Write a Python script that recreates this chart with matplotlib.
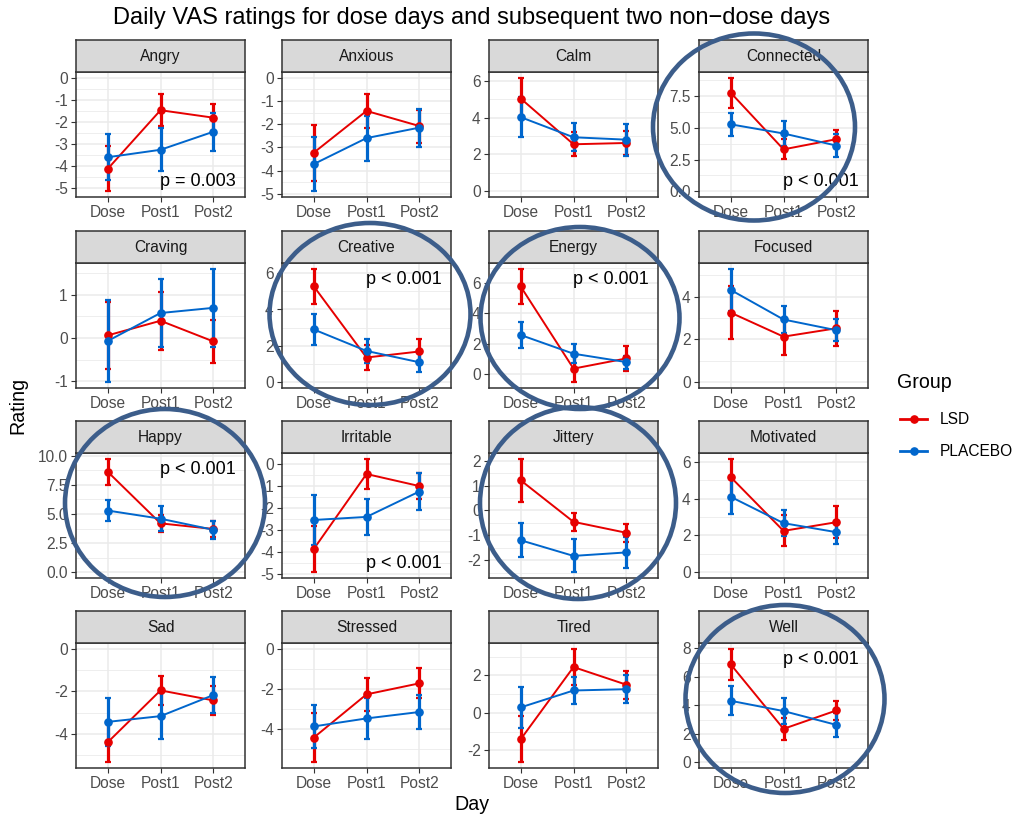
import matplotlib
matplotlib.use('Agg')
import matplotlib.pyplot as plt
from matplotlib.patches import Ellipse
from matplotlib.lines import Line2D
from matplotlib.ticker import MultipleLocator, FormatStrFormatter
import numpy as np

plt.rcParams['font.family'] = ['Liberation Sans', 'DejaVu Sans']

# ---------------- data ----------------
days = ['Dose', 'Post1', 'Post2']
groups = ['LSD', 'PLACEBO']
panels = ['Angry', 'Anxious', 'Calm', 'Connected',
          'Craving', 'Creative', 'Energy', 'Focused',
          'Happy', 'Irritable', 'Jittery', 'Motivated',
          'Sad', 'Stressed', 'Tired', 'Well']

lsd_mean = [[-4.15, -1.48, -1.82], [-3.23, -1.43, -2.08], [5.03, 2.55, 2.62], [7.76, 3.30, 4.10],
            [0.06, 0.40, -0.08], [5.27, 1.36, 1.69], [5.77, 0.37, 1.04], [3.25, 2.13, 2.52],
            [8.63, 4.20, 3.72], [-3.87, -0.44, -0.99], [1.21, -0.46, -0.90], [5.17, 2.25, 2.72],
            [-4.40, -1.96, -2.43], [-4.44, -2.28, -1.73], [-1.41, 2.44, 1.50], [6.88, 2.35, 3.64]]
lsd_err = [[1.02, 0.72, 0.60], [1.21, 0.72, 0.71], [1.13, 0.66, 0.65], [1.18, 0.79, 0.72],
           [0.77, 0.67, 0.50], [0.96, 0.66, 0.69], [1.17, 0.90, 0.80], [1.23, 0.86, 0.82],
           [1.12, 0.70, 0.72], [1.06, 0.70, 0.61], [0.87, 0.37, 0.37], [1.00, 0.84, 0.88],
           [0.94, 0.68, 0.68], [1.23, 0.83, 0.75], [1.23, 0.98, 0.74], [1.10, 0.76, 0.68]]
pbo_mean = [[-3.62, -3.28, -2.46], [-3.72, -2.60, -2.15], [4.02, 2.93, 2.80], [5.27, 4.55, 3.60],
            [-0.07, 0.58, 0.70], [2.90, 1.72, 1.10], [2.58, 1.35, 0.80], [4.31, 2.93, 2.43],
            [5.30, 4.60, 3.65], [-2.54, -2.40, -1.24], [-1.20, -1.83, -1.69], [4.10, 2.67, 2.18],
            [-3.44, -3.17, -2.18], [-3.88, -3.48, -3.16], [0.29, 1.19, 1.26], [4.32, 3.60, 2.63]]
pbo_err = [[1.05, 0.97, 0.86], [1.17, 0.97, 0.82], [1.08, 0.75, 0.87], [0.93, 0.99, 0.90],
           [0.96, 0.80, 0.91], [0.83, 0.65, 0.53], [0.87, 0.62, 0.43], [0.99, 0.65, 0.51],
           [0.92, 1.05, 0.75], [1.12, 0.82, 0.86], [0.68, 0.66, 0.62], [0.96, 0.71, 0.63],
           [1.11, 1.08, 0.85], [1.08, 1.01, 0.87], [1.10, 0.72, 0.74], [1.03, 0.92, 0.85]]

y_step = [1, 1, 2, 2.5, 1, 2, 2, 2, 2.5, 1, 1, 2, 2, 2, 2, 2]

p_labels = {'Angry': 'p = 0.003', 'Connected': 'p < 0.001', 'Creative': 'p < 0.001',
            'Energy': 'p < 0.001', 'Happy': 'p < 0.001', 'Irritable': 'p < 0.001',
            'Well': 'p < 0.001'}
p_top = ['Creative', 'Energy', 'Happy', 'Well']

circled = ['Connected', 'Creative', 'Energy', 'Happy', 'Jittery', 'Well']
# ellipse centre / size in figure pixels (hand-drawn highlights)
circle_px = [(754, 127, 202, 187), (370, 314, 201, 182), (580, 318, 199, 182),
             (165, 503, 200, 188), (578, 503, 196, 192), (785, 699, 199, 188)]

# ---------------- style ----------------
W, H = 1018, 817
colors = {'LSD': '#E60000', 'PLACEBO': '#0066CC'}
col_left = [76, 282, 489, 699]
row_top = [72, 263, 453, 643]
pw, ph = 169, 125
strip_h = 32

fig = plt.figure(figsize=(W / 100, H / 100), dpi=100)


def fx(px):
    return px / W


def fy(py):
    return 1 - py / H


for i, name in enumerate(panels):
    r, c = divmod(i, 4)
    left, top = col_left[c], row_top[r]
    ax = fig.add_axes([fx(left), fy(top + ph), pw / W, ph / H])
    sax = fig.add_axes([fx(left), fy(top), pw / W, strip_h / H])
    sax.set_facecolor('#D9D9D9')
    sax.set_xticks([]); sax.set_yticks([])
    for s in sax.spines.values():
        s.set_color('#333333'); s.set_linewidth(1.1)
    sax.text(0.5, 0.47, name, ha='center', va='center', fontsize=11.2,
             color='#1A1A1A', transform=sax.transAxes)

    x = np.arange(1, 4)
    lows, highs = [0.0], [0.0]
    for g, means, errs in (('LSD', lsd_mean, lsd_err), ('PLACEBO', pbo_mean, pbo_err)):
        m = np.array(means[i]); e = np.array(errs[i])
        col = colors[g]
        ax.plot(x, m, color=col, lw=1.4, zorder=3)
        ax.errorbar(x, m, yerr=e, fmt='none', ecolor=col, elinewidth=2.3,
                    capsize=2.2, capthick=1.6, zorder=4)
        ax.plot(x, m, 'o', color=col, ms=5.2, zorder=5)
        lows.append((m - e).min()); highs.append((m + e).max())
    lo, hi = min(lows), max(highs)
    pad = (hi - lo) * 0.05
    ax.set_ylim(lo - pad, hi + pad)
    ax.set_xlim(0.4, 3.6)
    ax.set_xticks(x)
    ax.set_xticklabels(days)
    ax.yaxis.set_major_locator(MultipleLocator(y_step[i]))
    ax.yaxis.set_minor_locator(MultipleLocator(y_step[i] / 2))
    if y_step[i] == 2.5:
        ax.yaxis.set_major_formatter(FormatStrFormatter('%.1f'))
    else:
        ax.yaxis.set_major_formatter(FormatStrFormatter('%g'))
    ax.grid(which='major', color='#EBEBEB', lw=1.1, zorder=0)
    ax.grid(which='minor', axis='y', color='#EBEBEB', lw=0.6, zorder=0)
    ax.set_axisbelow(True)
    ax.tick_params(which='major', length=3.5, width=0.8, color='#333333',
                   labelsize=11.2, labelcolor='#4D4D4D', pad=2.5)
    ax.tick_params(which='minor', length=0)
    for s in ax.spines.values():
        s.set_color('#333333'); s.set_linewidth(1.1)

    if name in p_labels:
        yy = 0.87 if name in p_top else 0.12
        ax.text(0.945, yy, p_labels[name], ha='right', va='center', fontsize=13,
                color='black', transform=ax.transAxes, zorder=6)

# highlight circles
for name, (cx, cy, w, h) in zip(circled, circle_px):
    el = Ellipse((fx(cx), fy(cy)), w / W, h / H, transform=fig.transFigure,
                 fill=False, edgecolor='#3C5D8A', lw=3.3, zorder=20)
    fig.add_artist(el)

# titles
fig.text(fx(472), fy(18), 'Daily VAS ratings for dose days and subsequent two non\u2212dose days',
         ha='center', va='center', fontsize=17.0, color='black')
fig.text(fx(18), fy(405), 'Rating', rotation=90, ha='center', va='center', fontsize=14.1)
fig.text(fx(472), fy(805), 'Day', ha='center', va='center', fontsize=14.1)

# legend
fig.text(fx(897), fy(383), 'Group', ha='left', va='center', fontsize=14.1)
for k, g in enumerate(groups):
    yk = 419 + 32 * k
    fig.add_artist(Line2D([fx(900), fx(927)], [fy(yk), fy(yk)], color=colors[g], lw=2.0,
                          transform=fig.transFigure))
    fig.add_artist(Line2D([fx(913.5)], [fy(yk)], marker='o', ms=5.2, color=colors[g],
                          transform=fig.transFigure))
    fig.text(fx(940), fy(yk), g, ha='left', va='center', fontsize=11.2)

fig.savefig('out.png', dpi=100)
